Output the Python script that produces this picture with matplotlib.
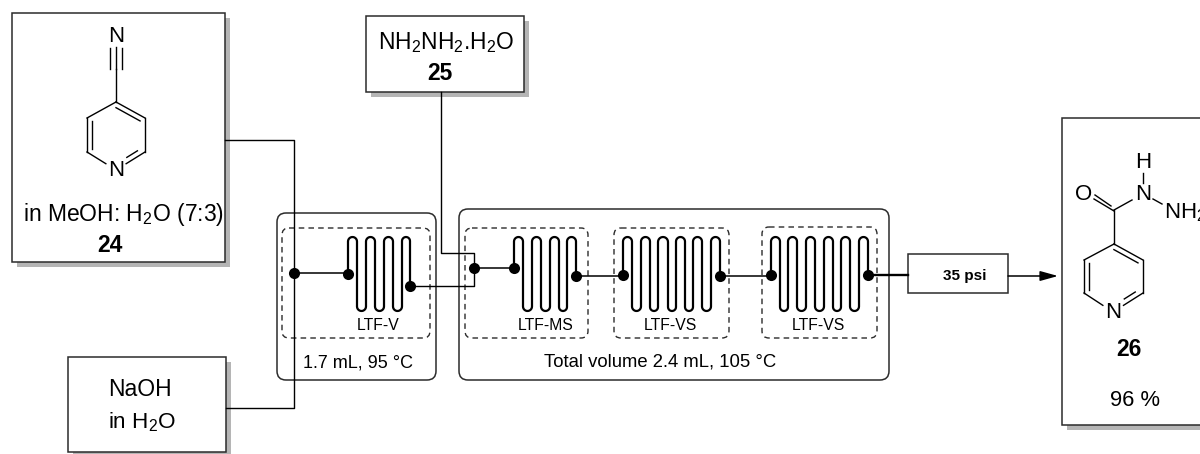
import numpy as np
import matplotlib
matplotlib.use('Agg')
import matplotlib.pyplot as plt
from matplotlib.patches import FancyBboxPatch, Rectangle

plt.rcParams['font.family'] = ['Liberation Sans', 'DejaVu Sans']
plt.rcParams['mathtext.default'] = 'regular'

# Boxes in image pixels: x0, y0, x1, y1
box_24 = [12, 13, 225, 262]
box_25 = [366, 16, 524, 92]
box_naoh = [68, 357, 226, 452]
box_26 = [1062, 118, 1204, 425]
box_psi = [908, 254, 1008, 293]
reactor_boxes = [[277, 213, 436, 380], [459, 209, 889, 380]]
dashed_boxes = [[282, 228, 430, 338], [465, 228, 588, 338], [614, 228, 729, 338], [762, 227, 877, 338]]

# Serpentine tube positions
coil_v = [348, 357, 366, 375, 384, 393, 402, 410]
coil_ms = [514, 523, 532, 541, 550, 559, 567, 576]
coil_vs1 = [623, 632, 641, 650, 658, 668, 676, 685, 693, 702, 711, 720]
coil_vs2 = [771, 780, 788, 797, 806, 815, 824, 833, 841, 850, 859, 868]
coil_starts = [274, 268, 275, 275]
coil_ends = [286, 276, 276, 275]
coil_top = 237
coil_bottom = 311

coil_labels = ['LTF-V', 'LTF-MS', 'LTF-VS', 'LTF-VS']
coil_label_x = [378, 546, 670, 818]

# Tubing
feed_x = [225, 294, 294, 226]
feed_y = [140, 140, 408, 408]
hydrazine_x = [441, 441, 474, 474, 410]
hydrazine_y = [92, 253, 253, 286, 286]
link_segments = [([294, 348], [273, 273]), ([474, 514], [268, 268]), ([576, 623], [276, 276]),
                 ([720, 771], [276, 276])]

# Ring vertices
ring_24_x = [116, 145, 145, 116, 87, 87]
ring_24_y = [102, 118, 152, 170, 152, 118]
ring_26_x = [1114, 1143, 1143, 1113, 1084, 1084]
ring_26_y = [244, 260, 293, 312, 293, 260]

fig = plt.figure(figsize=(12, 4.54), dpi=100)
ax = fig.add_axes([0, 0, 1, 1])
ax.set_xlim(0, 1200)
ax.set_ylim(454, 0)
ax.axis('off')

dark = '#2b2b2b'


def square_box(b, shadow=True):
    if shadow:
        ax.add_patch(Rectangle((b[0] + 5, b[1] + 5), b[2] - b[0], b[3] - b[1], fc='#b5b5b5', ec='none', zorder=1))
    ax.add_patch(Rectangle((b[0], b[1]), b[2] - b[0], b[3] - b[1], fc='white', ec=dark, lw=1.1, zorder=2))


def round_box(b, ls='-', lw=1.1, r=9):
    ax.add_patch(FancyBboxPatch((b[0], b[1]), b[2] - b[0], b[3] - b[1], boxstyle='round,pad=0,rounding_size=%d' % r,
                                fc='none', ec=dark, lw=lw, ls=ls, zorder=3))


def coil(xs, start, end):
    # up from the first node, then over and under each pair of tubes
    px = [xs[0]]
    py = [start]
    for i in range(len(xs) - 1):
        mid = (xs[i] + xs[i + 1]) / 2
        r = (xs[i + 1] - xs[i]) / 2
        t = np.linspace(np.pi, 0, 12)
        if i % 2 == 0:
            px.extend(mid + r * np.cos(t))
            py.extend(coil_top + r - r * np.sin(t))
        else:
            px.extend(mid + r * np.cos(t))
            py.extend(coil_bottom - r + r * np.sin(t))
    px.append(xs[-1])
    py.append(end)
    ax.plot(px, py, color='black', lw=1.6, zorder=5, solid_capstyle='round')
    ax.plot([xs[0], xs[-1]], [start, end], 'o', color='black', ms=8, mew=0, zorder=6)


def ring(xs, ys):
    # pyridine: single bonds round the ring plus three inner double-bond lines
    cx = np.mean(xs)
    cy = np.mean(ys)
    for i in range(6):
        j = (i + 1) % 6
        x0, y0, x1, y1 = xs[i], ys[i], xs[j], ys[j]
        if i == 2:
            x1, y1 = x0 + (x1 - x0) * 0.65, y0 + (y1 - y0) * 0.65
        if i == 3:
            x0, y0 = x1 + (x0 - x1) * 0.65, y1 + (y0 - y1) * 0.65
        ax.plot([x0, x1], [y0, y1], color='black', lw=1, zorder=5)
    for i in [0, 2, 4]:
        j = (i + 1) % 6
        ix0 = xs[i] + (cx - xs[i]) * 0.17
        iy0 = ys[i] + (cy - ys[i]) * 0.17
        ix1 = xs[j] + (cx - xs[j]) * 0.17
        iy1 = ys[j] + (cy - ys[j]) * 0.17
        if i == 2:
            ix1, iy1 = ix0 + (ix1 - ix0) * 0.55, iy0 + (iy1 - iy0) * 0.55
            ix0, iy0 = ix0 + (ix1 - ix0) * 0.2, iy0 + (iy1 - iy0) * 0.2
        ax.plot([ix0, ix1], [iy0, iy1], color='black', lw=1, zorder=5)


def bond(x0, y0, x1, y1):
    ax.plot([x0, x1], [y0, y1], color='black', lw=1, zorder=5)


def label(x, y, s, size=16, weight='normal', ha='center'):
    ax.text(x, y, s, fontsize=size, fontweight=weight, ha=ha, va='center', color='black', zorder=7)


square_box(box_24)
square_box(box_25)
square_box(box_naoh)
square_box(box_26)
square_box(box_psi, shadow=False)

for b in reactor_boxes:
    round_box(b)
for b in dashed_boxes:
    round_box(b, ls=(0, (4, 3)), lw=1, r=7)

ax.plot(feed_x, feed_y, color='black', lw=1, zorder=4)
ax.plot(hydrazine_x, hydrazine_y, color='black', lw=1, zorder=4)
for sx, sy in link_segments:
    ax.plot(sx, sy, color='black', lw=1.1, zorder=4)
ax.plot([868, 908], [275, 275], color='black', lw=1.7, zorder=4)
ax.plot([294, 474], [273, 268], 'o', color='black', ms=8, mew=0, zorder=6)

coil(coil_v, coil_starts[0], coil_ends[0])
coil(coil_ms, coil_starts[1], coil_ends[1])
coil(coil_vs1, coil_starts[2], coil_ends[2])
coil(coil_vs2, coil_starts[3], coil_ends[3])

for x, s in zip(coil_label_x, coil_labels):
    label(x, 326, s, size=11.3)

ax.annotate('', xy=(1058, 276), xytext=(1008, 276),
            arrowprops=dict(arrowstyle='-|>,head_length=0.9,head_width=0.25', color='black', lw=1.1,
                            mutation_scale=12, shrinkA=0, shrinkB=0), zorder=5)

# molecule 24
ring(ring_24_x, ring_24_y)
bond(116, 102, 116, 69)
bond(116, 69, 116, 47)
bond(110, 69, 110, 48)
bond(122, 69, 122, 48)
label(116, 36, 'N')
ax.add_patch(Rectangle((107, 163), 18, 17, fc='white', ec='none', zorder=6))
label(116, 171, 'N')
label(123, 215, 'in MeOH: H$_2$O (7:3)', size=16.5)
label(110, 245, '24', size=16.5, weight='bold')

# molecule 26
ring(ring_26_x, ring_26_y)
ax.add_patch(Rectangle((1104, 303), 18, 17, fc='white', ec='none', zorder=6))
label(1113, 313, 'N')
bond(1114, 244, 1114, 210)
bond(1114, 210, 1132, 200)
bond(1114, 211, 1094, 199)
bond(1111, 206, 1095, 195)
label(1084, 195, 'O')
label(1143, 195, 'N')
label(1143, 162, 'H')
bond(1143, 173, 1143, 183)
bond(1153, 199, 1162, 204)
label(1164, 213, 'NH$_2$', ha='left')
label(1129, 349, '26', size=16.5, weight='bold')
label(1135, 401, '96 %', size=15.8)

# other labels
label(446, 43, 'NH$_2$NH$_2$.H$_2$O', size=16.4)
label(440, 73, '25', size=16.5, weight='bold')
label(140, 390, 'NaOH', size=16.5)
label(142, 422, 'in H$_2$O', size=16.2)
label(358, 363, '1.7 mL, 95 °C', size=13)
label(660, 362, 'Total volume 2.4 mL, 105 °C', size=13.3)
label(965, 276, '35 psi', size=11, weight='bold')

plt.savefig('out.png', dpi=100)
plt.close()
